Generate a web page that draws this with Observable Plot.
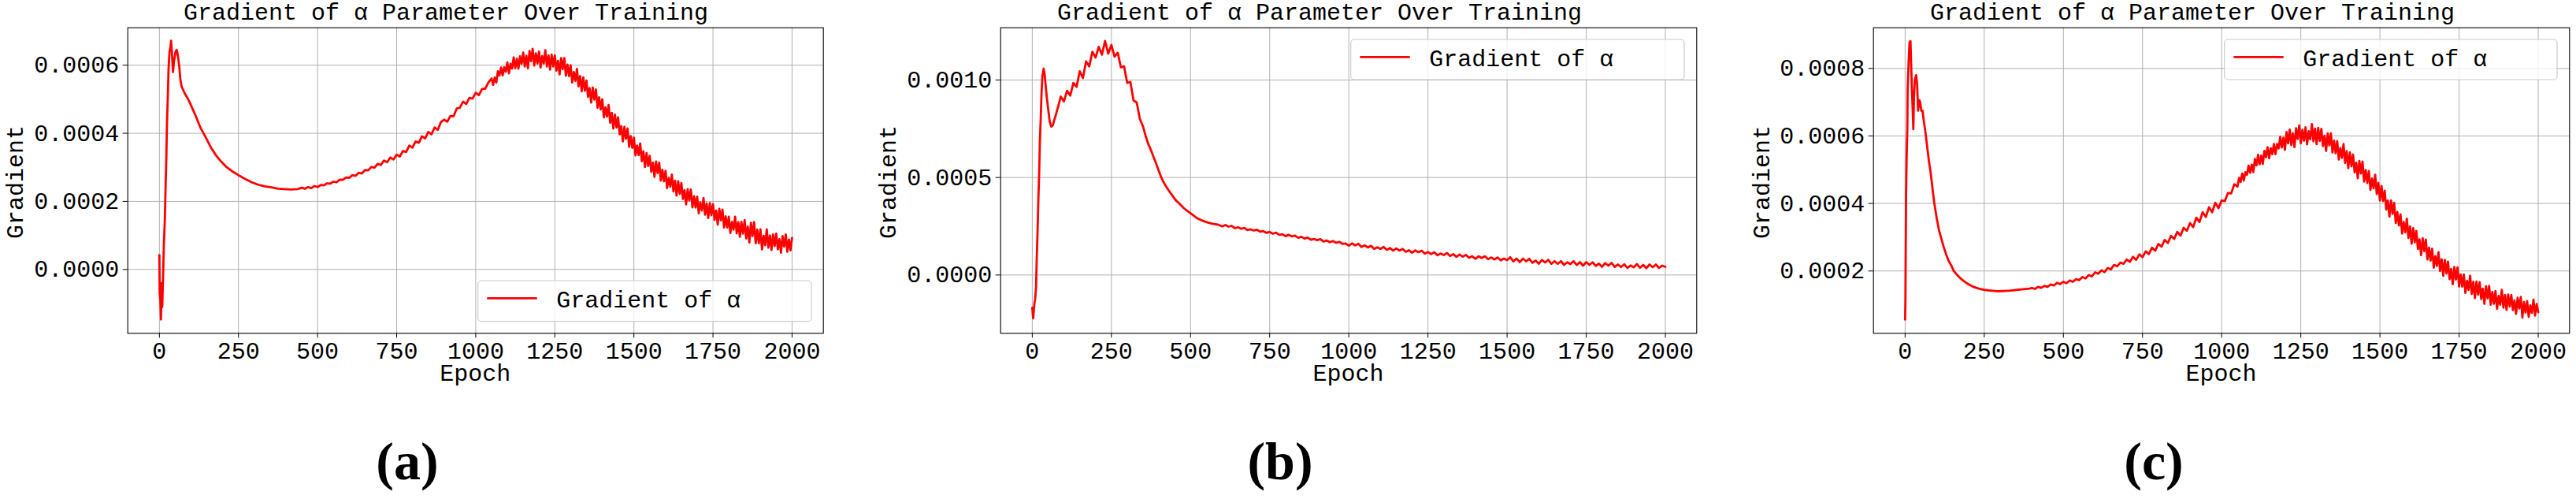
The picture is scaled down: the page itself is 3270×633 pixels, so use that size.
<!DOCTYPE html>
<html><head><meta charset="utf-8">
<script src="https://cdn.jsdelivr.net/npm/d3@7"></script>
<script src="https://cdn.jsdelivr.net/npm/@observablehq/plot@0.6"></script>
<style>
html,body{margin:0;padding:0;background:#fff;}
#fig{position:relative;width:3270px;height:633px;overflow:hidden;background:#fff;}
#fig > svg{position:absolute;top:0;}
</style></head><body><div id="fig"></div>
<script>
// ---------- data (gradient values in units of 1e-4) ----------
const GRAD_UNIT = 1e-4;
const xTicks = [0, 250, 500, 750, 1000, 1250, 1500, 1750, 2000];
const yTicksA = [0, 0.0002, 0.0004, 0.0006];
const yTicksB = [0, 0.0005, 0.0010];
const yTicksC = [0.0002, 0.0004, 0.0006, 0.0008];
const titleText = "Gradient of α Parameter Over Training";
const xLabel = "Epoch";
const yLabel = "Gradient";
const legendText = "Gradient of α";
const captions = ["(a)", "(b)", "(c)"];

const epochsA = [0,1,3,5,7,9,12,14,17,19,22,24,27,29,32,35,37,40,43,46,51,55,59,63,66,70,80,88,96,113,130,146,163,179,196,213,229,250,271,292,312,333,354,375,395,416,437,
450,460,470,480,490,
500,510,520,530,540,550,560,570,580,590,
600,610,620,630,640,650,660,670,680,690,
700,710,720,730,740,750,760,770,780,790,
800,810,820,830,840,850,860,870,880,890,
900,910,920,930,940,950,960,970,980,990,
1000,1010,1020,1030,1040,
1050,1055,1060,1065,1070,1075,1080,1085,1090,1095,
1100,1105,1110,1115,1120,1125,1130,1135,1140,1145,
1150,1155,1160,1165,1170,1175,1180,1185,1190,1195,
1200,1205,1210,1215,1220,1225,1230,1235,1240,1245,
1250,1255,1260,1265,1270,1275,1280,1285,1290,1295,
1300,1305,1310,1315,1320,1325,1330,1335,1340,1345,
1350,1355,1360,1365,1370,1375,1380,1385,1390,1395,
1400,1405,1410,1415,1420,1425,1430,1435,1440,1445,
1450,1455,1460,1465,1470,1475,1480,1485,1490,1495,
1500,1505,1510,1515,1520,1525,1530,1535,1540,1545,
1550,1555,1560,1565,1570,1575,1580,1585,1590,1595,
1600,1605,1610,1615,1620,1625,1630,1635,1640,1645,
1650,1655,1660,1665,1670,1675,1680,1685,1690,1695,
1700,1705,1710,1715,1720,1725,1730,1735,1740,1745,
1750,1755,1760,1765,1770,1775,1780,1785,1790,1795,
1800,1805,1810,1815,1820,1825,1830,1835,1840,1845,
1850,1855,1860,1865,1870,1875,1880,1885,1890,1895,
1900,1905,1910,1915,1920,1925,1930,1935,1940,1945,
1950,1955,1960,1965,1970,1975,1980,1985,1990,1995,
2000];
const gradA = [0.42,-0.7,-0.9,-1.47,-0.4,-1.1,-0.1,0.7,1.4,2.2,3.3,4.3,5.2,5.9,6.4,6.55,6.72,6.3,5.8,6.1,6.4,6.45,6.25,5.95,5.6,5.38,5.17,5.05,4.9,4.55,4.16,3.89,3.58,3.35,3.16,3.0,2.89,2.77,2.66,2.56,2.49,2.44,2.41,2.37,2.36,2.35,2.36,
2.40,2.37,2.42,2.39,2.45,
2.42,2.48,2.47,2.53,2.52,2.58,2.56,2.64,2.63,2.70,
2.69,2.77,2.75,2.84,2.82,2.92,2.91,3.01,2.99,3.10,
3.07,3.20,3.15,3.29,3.23,3.37,3.32,3.48,3.45,3.64,
3.58,3.76,3.72,3.91,3.85,4.04,3.97,4.17,4.10,4.33,
4.40,4.34,4.51,4.50,4.73,4.75,4.93,4.86,5.04,5.02,
5.19,5.12,5.30,5.31,5.49,
5.61,5.42,5.64,5.49,5.82,5.70,5.93,5.70,5.94,5.81,
6.08,5.76,6.04,5.90,6.23,5.91,6.19,5.90,6.26,6.04,
6.37,5.96,6.28,5.91,6.42,6.12,6.48,5.99,6.35,6.05,
6.40,5.93,6.27,6.05,6.44,5.96,6.29,5.87,6.31,5.96,
6.29,5.84,6.13,5.73,6.21,5.88,6.21,5.69,6.02,5.68,
6.00,5.49,5.80,5.54,5.89,5.38,5.68,5.23,5.64,5.25,
5.55,5.07,5.33,4.90,5.34,4.99,5.29,4.75,5.06,4.70,
5.00,4.47,4.76,4.49,4.83,4.31,4.60,4.14,4.55,4.17,
4.47,3.97,4.21,3.76,4.19,3.84,4.14,3.60,3.92,3.57,
3.87,3.35,3.64,3.36,3.70,3.18,3.47,3.01,3.42,3.04,
3.34,2.87,3.14,2.72,3.17,2.83,3.14,2.61,2.93,2.59,
2.90,2.39,2.69,2.43,2.79,2.29,2.61,2.17,2.59,2.22,
2.54,2.07,2.33,1.91,2.36,2.03,2.35,1.82,2.15,1.82,
2.14,1.65,1.97,1.73,2.10,1.61,1.94,1.51,1.95,1.59,
1.92,1.46,1.73,1.32,1.78,1.44,1.76,1.23,1.56,1.23,
1.55,1.07,1.40,1.17,1.55,1.06,1.39,0.96,1.40,1.05,
1.45,0.91,1.26,0.79,1.37,0.98,1.39,0.77,1.17,0.77,
1.18,0.59,0.99,0.71,1.18,0.64,1.00,0.57,1.03,0.69,
1.05,0.59,0.89,0.49,0.98,0.67,1.03,0.52,0.88,0.56,
0.93];

const epochsB = [0,3,5,7,9,12,14,17,19,22,24,27,29,32,36,39,42,46,51,55,60,65,71,78,85,
90,100,110,120,130,140,150,160,170,180,190,200,210,220,230,240,250,260,270,280,290,300,310,320,330,340,
350,358,366,375,383,391,400,408,416,429,441,453,466,478,491,503,520,537,553,570,586,
600,610,620,630,640,650,660,670,680,690,
700,710,720,730,740,750,760,770,780,790,
800,810,820,830,840,850,860,870,880,890,
900,910,920,930,940,950,960,970,980,990,
1000,1010,1020,1030,1040,1050,1060,1070,1080,1090,
1100,1110,1120,1130,1140,1150,1160,1170,1180,1190,
1200,1210,1220,1230,1240,1250,1260,1270,1280,1290,
1300,1310,1320,1330,1340,1350,1360,1370,1380,1390,
1400,1410,1420,1430,1440,1450,1460,1470,1480,1490,
1500,1510,1520,1530,1540,1550,1560,1570,1580,1590,
1600,1610,1620,1630,1640,1650,1660,1670,1680,1690,
1700,1710,1720,1730,1740,1750,1760,1770,1780,1790,
1800,1810,1820,1830,1840,1850,1860,1870,1880,1890,
1900,1910,1920,1930,1940,1950,1960,1970,1980,1990,
2000];
const gradB = [-1.68,-2.22,-1.8,-1.41,-1.28,-0.61,0.74,2.36,3.71,5.32,6.81,8.15,9.23,10.18,10.58,10.31,9.77,9.10,8.42,7.88,7.61,7.68,8.02,8.42,8.83,
9.15,8.90,9.45,9.20,9.85,9.65,10.45,10.10,10.95,10.70,11.45,11.15,11.70,11.30,12.0,11.35,11.80,11.20,11.40,10.65,10.70,9.85,9.90,8.95,8.85,8.00,
7.61,7.14,6.74,6.40,6.06,5.73,5.32,4.99,4.72,4.38,4.11,3.84,3.64,3.44,3.27,3.13,2.92,2.79,2.70,2.63,2.59,
2.49,2.56,2.48,2.52,2.40,2.45,2.37,2.41,2.30,2.34,
2.28,2.32,2.22,2.25,2.16,2.21,2.12,2.17,2.06,2.09,
1.99,2.06,1.98,2.02,1.91,1.96,1.87,1.92,1.81,1.85,
1.79,1.84,1.72,1.77,1.68,1.74,1.65,1.70,1.60,1.62,
1.50,1.62,1.52,1.60,1.44,1.52,1.41,1.50,1.34,1.42,
1.34,1.44,1.29,1.38,1.25,1.36,1.25,1.34,1.19,1.27,
1.14,1.26,1.17,1.25,1.10,1.18,1.07,1.17,1.01,1.10,
1.02,1.13,0.97,1.07,0.93,1.05,0.94,1.03,0.88,0.96,
0.83,0.96,0.87,0.96,0.81,0.90,0.80,0.90,0.75,0.84,
0.76,0.91,0.70,0.84,0.66,0.84,0.70,0.83,0.63,0.74,
0.58,0.77,0.64,0.78,0.57,0.71,0.57,0.71,0.52,0.65,
0.56,0.71,0.51,0.66,0.48,0.66,0.52,0.65,0.47,0.58,
0.42,0.61,0.48,0.62,0.41,0.54,0.41,0.55,0.36,0.49,
0.40,0.56,0.37,0.52,0.35,0.54,0.40,0.54,0.36,0.48,
0.42];

const epochsC = [0,1,2,3,5,7,8,11,14,17,19,21,24,26,28,31,35,38,41,45,48,51,55,59,63,67,71,75,80,84,88,92,96,100,104,108,113,121,129,137,146,154,162,175,187,200,216,233,251,270,291,311,332,353,373,394,
400,410,420,430,440,450,460,470,480,490,
500,510,520,530,540,550,560,570,580,590,
600,610,620,630,640,650,660,670,680,690,
700,710,720,730,740,750,760,770,780,790,
800,810,820,830,840,850,860,870,880,890,
900,910,920,930,940,950,960,970,980,990,
1000,1010,1020,1030,1040,
1050,1055,1060,1065,1070,1075,1080,1085,1090,1095,
1100,1105,1110,1115,1120,1125,1130,1135,1140,1145,
1150,1155,1160,1165,1170,1175,1180,1185,1190,1195,
1200,1205,1210,1215,1220,1225,1230,1235,1240,1245,
1250,1255,1260,1265,1270,1275,1280,1285,1290,1295,
1300,1305,1310,1315,1320,1325,1330,1335,1340,1345,
1350,1355,1360,1365,1370,1375,1380,1385,1390,1395,
1400,1405,1410,1415,1420,1425,1430,1435,1440,1445,
1450,1455,1460,1465,1470,1475,1480,1485,1490,1495,
1500,1505,1510,1515,1520,1525,1530,1535,1540,1545,
1550,1555,1560,1565,1570,1575,1580,1585,1590,1595,
1600,1605,1610,1615,1620,1625,1630,1635,1640,1645,
1650,1655,1660,1665,1670,1675,1680,1685,1690,1695,
1700,1705,1710,1715,1720,1725,1730,1735,1740,1745,
1750,1755,1760,1765,1770,1775,1780,1785,1790,1795,
1800,1805,1810,1815,1820,1825,1830,1835,1840,1845,
1850,1855,1860,1865,1870,1875,1880,1885,1890,1895,
1900,1905,1910,1915,1920,1925,1930,1935,1940,1945,
1950,1955,1960,1965,1970,1975,1980,1985,1990,1995,
2000];
const gradC = [0.56,1.14,2.70,4.26,5.42,6.20,7.37,8.15,8.77,8.81,8.15,7.53,6.75,6.20,7.14,7.68,7.80,7.53,6.75,7.06,6.98,6.75,6.75,6.44,6.20,5.89,5.58,5.27,4.96,4.65,4.33,4.02,3.79,3.56,3.36,3.17,3.01,2.74,2.51,2.31,2.16,2.00,1.91,1.78,1.69,1.61,1.53,1.48,1.44,1.42,1.40,1.41,1.42,1.44,1.46,1.48,
1.50,1.47,1.53,1.50,1.56,1.53,1.60,1.57,1.65,1.61,
1.68,1.64,1.72,1.68,1.76,1.73,1.82,1.78,1.88,1.84,
1.96,1.92,2.02,1.97,2.09,2.05,2.18,2.14,2.25,2.21,
2.34,2.27,2.42,2.33,2.49,2.41,2.58,2.50,2.69,2.60,
2.80,2.72,2.92,2.83,3.04,2.95,3.16,3.05,3.28,3.19,
3.42,3.30,3.58,3.45,3.74,3.60,3.89,3.74,4.02,3.86,
4.09,4.07,4.31,4.30,4.57,
4.50,4.76,4.64,4.89,4.68,4.93,4.85,5.12,4.91,5.15,
4.93,5.32,5.13,5.44,5.16,5.42,5.17,5.56,5.37,5.67,
5.34,5.64,5.46,5.76,5.46,5.76,5.63,5.97,5.66,5.95,
5.59,6.12,5.78,6.19,5.73,6.08,5.67,6.23,5.91,6.31,
5.78,6.18,5.86,6.26,5.75,6.14,5.90,6.35,5.84,6.22,
5.76,6.24,5.85,6.21,5.70,6.01,5.56,6.08,5.72,6.08,
5.51,5.86,5.49,5.85,5.30,5.64,5.35,5.76,5.20,5.55,
5.05,5.51,5.10,5.45,4.92,5.21,4.75,5.26,4.89,5.24,
4.65,4.99,4.61,4.96,4.40,4.74,4.45,4.85,4.28,4.61,
4.09,4.52,4.07,4.38,3.82,4.09,3.61,4.09,3.69,4.02,
3.42,3.75,3.35,3.68,3.11,3.45,3.15,3.55,2.98,3.32,
2.81,3.27,2.85,3.19,2.65,2.94,2.47,2.97,2.59,2.93,
2.34,2.69,2.31,2.66,2.10,2.44,2.15,2.56,2.00,2.35,
1.86,2.33,1.93,2.28,1.76,2.06,1.61,2.12,1.75,2.11,
1.54,1.90,1.54,1.90,1.35,1.71,1.44,1.86,1.32,1.68,
1.20,1.69,1.30,1.67,1.17,1.48,1.03,1.55,1.19,1.56,
1.00,1.38,1.03,1.41,0.88,1.26,1.00,1.44,0.91,1.29,
0.85,1.30,0.95,1.29,0.84,1.13,0.73,1.21,0.89,1.23,
0.62,1.08,0.77,1.11,0.64,0.98,0.76,1.15,0.68,1.02,
0.78];

// ---------- layout ----------
const FONT_MONO = "'Liberation Mono', 'DejaVu Sans Mono', monospace";
const FONT_SERIF = "'Liberation Serif', 'DejaVu Serif', serif";
const X_DOMAIN = [-99.95, 2098.95];
const H = 633, M_TOP = 34.7, M_BOTTOM = 210.7;

const panels = [
  {epochs: epochsA, grads: gradA, yTicks: yTicksA, yDomain: [-1.876e-4, 7.10e-4],
   left: 0, width: 1090, mL: 161.7, mR: 45.3, titleX: 566, yLabelX: 28.5,
   legend: {x: 606.7, y: 356, w: 423.3, h: 51.7}, captionX: 517},
  {epochs: epochsB, grads: gradB, yTicks: yTicksB, yDomain: [-2.99e-4, 12.68e-4],
   left: 1100, width: 1090, mL: 169.7, mR: 36.7, titleX: 1675, yLabelX: 1137,
   legend: {x: 1714.7, y: 50, w: 423.3, h: 51}, captionX: 1625},
  {epochs: epochsC, grads: gradC, yTicks: yTicksC, yDomain: [0.155e-4, 9.205e-4],
   left: 2200, width: 1070, mL: 177.7, mR: 8.7, titleX: 2783, yLabelX: 2246,
   legend: {x: 2823.7, y: 50, w: 422.3, h: 51}, captionX: 2734}
];

const fig = document.getElementById("fig");

panels.forEach(p => {
  const rows = p.epochs.map((e, i) => ({epoch: e, grad: p.grads[i] * GRAD_UNIT}));
  const svg = Plot.plot({
    width: p.width, height: H,
    marginLeft: p.mL, marginRight: p.mR, marginTop: M_TOP, marginBottom: M_BOTTOM,
    x: {domain: X_DOMAIN},
    y: {domain: p.yDomain},
    style: {fontFamily: FONT_MONO, fontSize: "30px", color: "black", background: "transparent", overflow: "visible"},
    marks: [
      Plot.gridX(xTicks, {stroke: "#b0b0b0", strokeOpacity: 1, strokeWidth: 1}),
      Plot.gridY(p.yTicks, {stroke: "#b0b0b0", strokeOpacity: 1, strokeWidth: 1}),
      Plot.line(rows, {x: "epoch", y: "grad", stroke: "#ff0000", strokeWidth: 2.8}),
      Plot.frame({stroke: "black", strokeWidth: 1.1}),
      Plot.axisX(xTicks, {tickSize: 6, tickPadding: 5, tickFormat: d => String(d), label: null, fontSize: 30}),
      Plot.axisY(p.yTicks, {tickSize: 6, tickPadding: 5, tickFormat: d => d.toFixed(4), label: null, fontSize: 30})
    ]
  });
  svg.style.left = p.left + "px";
  fig.appendChild(svg);
});

// ---------- titles, labels, legends, captions ----------
const ov = d3.select(fig).append("svg")
  .attr("width", 3270).attr("height", H)
  .style("left", "0px").style("overflow", "visible");

panels.forEach((p, i) => {
  const fx0 = p.left + p.mL, fx1 = p.left + p.width - p.mR;
  const cx = (fx0 + fx1) / 2;
  const t = (sel) => sel.attr("font-family", FONT_MONO).attr("font-size", 30).attr("fill", "black");

  ov.append("text").call(t).attr("x", p.titleX).attr("y", 25).attr("text-anchor", "middle").text(titleText);
  ov.append("text").call(t).attr("x", cx).attr("y", 482.7).attr("text-anchor", "middle").text(xLabel);
  ov.append("text").call(t).attr("text-anchor", "middle")
    .attr("transform", `translate(${p.yLabelX},231) rotate(-90)`).text(yLabel);

  const L = p.legend;
  ov.append("rect").attr("x", L.x).attr("y", L.y).attr("width", L.w).attr("height", L.h)
    .attr("rx", 4.5).attr("fill", "white").attr("fill-opacity", 0.8)
    .attr("stroke", "#cccccc").attr("stroke-width", 1.2);
  ov.append("line").attr("x1", L.x + 11.6).attr("x2", L.x + 75).attr("y1", L.y + 22.3).attr("y2", L.y + 22.3)
    .attr("stroke", "#ff0000").attr("stroke-width", 2.8);
  ov.append("text").call(t).attr("x", L.x + 99.5).attr("y", L.y + 33.5).text(legendText);

  ov.append("text").attr("x", p.captionX).attr("y", 608).attr("text-anchor", "middle")
    .attr("font-family", FONT_SERIF).attr("font-weight", "bold").attr("font-size", 68).attr("fill", "black")
    .text(captions[i]);
});
</script>
</body></html>
